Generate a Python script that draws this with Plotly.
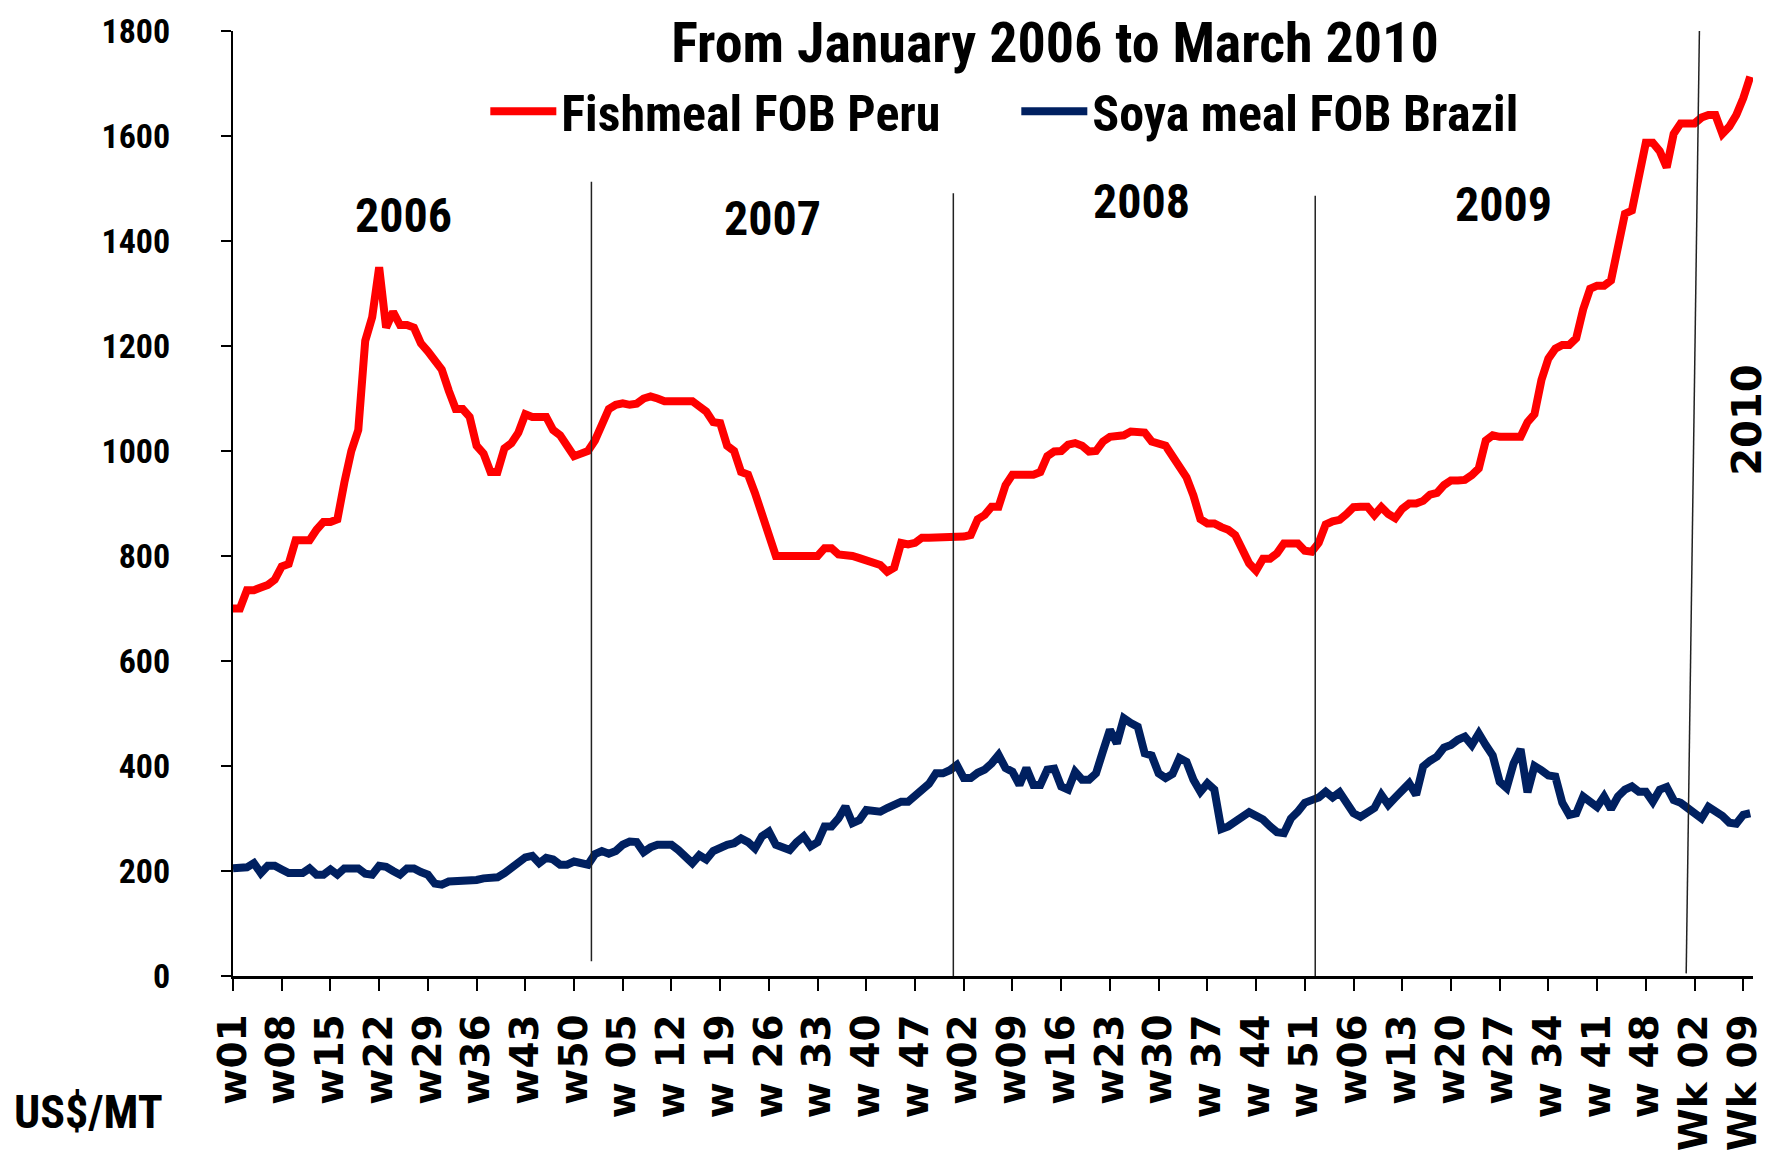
import plotly.graph_objects as go

# Semanas por año (2009 con 53 semanas, 2010 hasta la semana 10)
years = ["2006", "2007", "2008", "2009", "2010"]
weeks_per_year = [52, 52, 52, 53, 10]

# Fishmeal FOB Peru (US$/MT), semanal
fishmeal_2006 = [700, 700, 735, 735, 740, 745, 755, 780, 785, 830,
                 830, 830, 850, 865, 865, 870, 940, 1000, 1040, 1210,
                 1255, 1350, 1235, 1265, 1240, 1240, 1235, 1205, 1190, 1175,
                 1155, 1115, 1080, 1080, 1065, 1010, 995, 960, 960, 1005,
                 1015, 1035, 1070, 1065, 1065, 1065, 1040, 1030, 1010, 990,
                 995, 1000]
fishmeal_2007 = [1020, 1055, 1080, 1088, 1091, 1088, 1090, 1100, 1104, 1100,
                 1095, 1095, 1095, 1095, 1095, 1085, 1075, 1055, 1053, 1010,
                 1000, 960, 955, 920, 880, 840, 800, 800, 800, 800,
                 800, 800, 800, 815, 815, 803, 802, 800, 796, 792,
                 785, 783, 770, 778, 825, 822, 825, 835, 835, 835,
                 835, 835]
fishmeal_2008 = [835, 837, 840, 870, 878, 894, 894, 935, 955, 955,
                 955, 955, 960, 990, 999, 1000, 1012, 1015, 1010, 999,
                 1000, 1018, 1027, 1027, 1030, 1037, 1037, 1035, 1018, 1012,
                 1010, 990, 970, 950, 915, 870, 862, 862, 855, 850,
                 840, 810, 786, 772, 795, 795, 805, 824, 824, 824,
                 810, 808]
fishmeal_2009 = [825, 860, 866, 869, 880, 893, 894, 894, 878, 893,
                 880, 872, 890, 900, 900, 905, 917, 920, 935, 944,
                 944, 945, 954, 967, 1020, 1030, 1027, 1027, 1027, 1027,
                 1055, 1070, 1135, 1176, 1195, 1202, 1202, 1215, 1270, 1309,
                 1315, 1315, 1325, 1390, 1452, 1458, 1530, 1587, 1587, 1571,
                 1540, 1604, 1624]
fishmeal_2010 = [1624, 1624, 1635, 1640, 1640, 1604, 1618, 1640, 1672, 1713]

# Soya meal FOB Brazil (US$/MT), semanal
soya_2006 = [205, 205, 207, 215, 196, 210, 210, 203, 196, 196,
             196, 205, 193, 193, 203, 193, 205, 205, 205, 195,
             193, 210, 208, 200, 193, 205, 205, 198, 193, 176,
             174, 180, 180, 180, 180, 183, 186, 186, 188, 196,
             205, 218, 226, 229, 215, 225, 222, 212, 212, 218,
             215, 212]
soya_2007 = [232, 238, 233, 238, 250, 256, 255, 236, 245, 250,
             250, 250, 240, 225, 215, 230, 222, 238, 245, 250,
             253, 262, 255, 243, 266, 275, 250, 243, 240, 255,
             266, 247, 255, 285, 285, 300, 323, 291, 297, 316,
             315, 313, 320, 326, 332, 332, 345, 358, 366, 386,
             386, 392]
soya_2008 = [402, 377, 377, 387, 393, 405, 421, 396, 389, 364,
             396, 364, 364, 393, 395, 361, 355, 389, 374, 374,
             386, 428, 469, 443, 491, 482, 475, 424, 420, 386,
             377, 385, 415, 408, 374, 351, 367, 355, 280, 285,
             294, 300, 312, 305, 298, 285, 274, 272, 300, 313,
             330, 335]
soya_2009 = [340, 351, 340, 350, 330, 310, 303, 310, 320, 345,
             326, 340, 355, 367, 345, 399, 410, 418, 435, 440,
             450, 456, 440, 462, 440, 420, 370, 358, 405, 432,
             350, 400, 392, 382, 380, 330, 307, 310, 342, 330,
             322, 342, 318, 342, 355, 361, 351, 351, 332, 355,
             360, 335, 330]
soya_2010 = [320, 310, 300, 322, 315, 305, 292, 290, 307, 310]

# Etiquetas del eje X (una cada 7 semanas)
tick_labels = ["w01", "w08", "w15", "w22", "w29", "w36", "w43", "w50",
               "w 05", "w 12", "w 19", "w 26", "w 33", "w 40", "w 47",
               "w02", "w09", "w16", "w23", "w30", "w 37", "w 44", "w 51",
               "w06", "w13", "w20", "w27", "w 34", "w 41", "w 48",
               "Wk 02", "Wk 09"]

fishmeal = fishmeal_2006 + fishmeal_2007 + fishmeal_2008 + fishmeal_2009 + fishmeal_2010
soya = soya_2006 + soya_2007 + soya_2008 + soya_2009 + soya_2010
x = list(range(len(fishmeal)))

NARROW = "Roboto Condensed, Liberation Sans, sans-serif"
WIDE = "DejaVu Sans, Verdana, sans-serif"

fig = go.Figure()

fig.add_trace(go.Scatter(x=x, y=fishmeal, mode="lines", name="Fishmeal FOB Peru",
                         line=dict(color="#FF0000", width=8)))
fig.add_trace(go.Scatter(x=x, y=soya, mode="lines", name="Soya meal FOB Brazil",
                         line=dict(color="#002060", width=8)))

# Lineas verticales entre años
starts = [0]
for n in weeks_per_year:
    starts.append(starts[-1] + n)
sep_tops = [1513, 1491, 1486]
sep_bottoms = [28, 0, -5]
for k in range(3):
    xb = starts[k + 1] - 0.5
    fig.add_shape(type="line", xref="x", yref="y", x0=xb, x1=xb,
                  y0=sep_bottoms[k], y1=sep_tops[k],
                  line=dict(color="#222222", width=1.5))
# la de 2010 va inclinada
xb = starts[4] - 0.5
fig.add_shape(type="line", xref="x", yref="y", x0=xb + 0.3, x1=xb + 2.2,
              y0=5, y1=1800, line=dict(color="#222222", width=1.5))

# Etiquetas de años
year_y = [1448, 1442, 1476, 1469]
year_dx = [-1, 0, 1, 0.5]
for k in range(4):
    cx = (starts[k] + starts[k + 1] - 1) / 2 + year_dx[k]
    fig.add_annotation(x=cx, y=year_y[k], xref="x", yref="y", text=years[k],
                       showarrow=False, font=dict(family=NARROW, size=48, color="black", weight="bold"))
fig.add_annotation(x=217.5, y=1059, xref="x", yref="y", text=years[4], textangle=-90,
                   showarrow=False, font=dict(family=WIDE, size=40, color="black", weight="bold"))

fig.add_annotation(x=-0.095, y=-0.144, xref="paper", yref="paper", text="US$/MT",
                   xanchor="center", yanchor="middle",
                   showarrow=False, font=dict(family=NARROW, size=46, color="black", weight="bold"))

fig.update_layout(
    width=1779, height=1154,
    margin=dict(l=233, r=26, t=31, b=178),
    paper_bgcolor="white", plot_bgcolor="white",
    title=dict(text="From January 2006 to March 2010", x=0.593, y=0.9636,
               xanchor="center", yanchor="middle", xref="container", yref="container",
               font=dict(family=NARROW, size=56, color="black", weight="bold")),
    showlegend=True,
    legend=dict(orientation="h", x=0.166, y=0.915, xanchor="left", yanchor="middle",
                font=dict(family=NARROW, size=50, color="black", weight="bold"),
                entrywidth=450, itemwidth=66, bgcolor="rgba(0,0,0,0)"),
    xaxis=dict(range=[0, 218.4], tickmode="array",
               tickvals=list(range(0, len(fishmeal), 7)), ticktext=tick_labels,
               tickangle=-90, ticks="outside", ticklen=12, tickwidth=2, tickcolor="black",
               showline=True, linecolor="black", linewidth=2.5, showgrid=False, zeroline=False,
               ticklabelstandoff=8, automargin=False,
               tickfont=dict(family=WIDE, size=39, color="black", weight="bold")),
    yaxis=dict(range=[0, 1800], dtick=200, ticks="outside", ticklen=10, tickwidth=2,
               tickcolor="black", showline=True, linecolor="black", linewidth=2,
               showgrid=False, zeroline=False, ticklabelstandoff=44, automargin=False,
               tickfont=dict(family=NARROW, size=34, color="black", weight="bold")),
)

fig.write_html("out.html", config={"displayModeBar": False},
               post_script="document.body.style.margin='0px';")
